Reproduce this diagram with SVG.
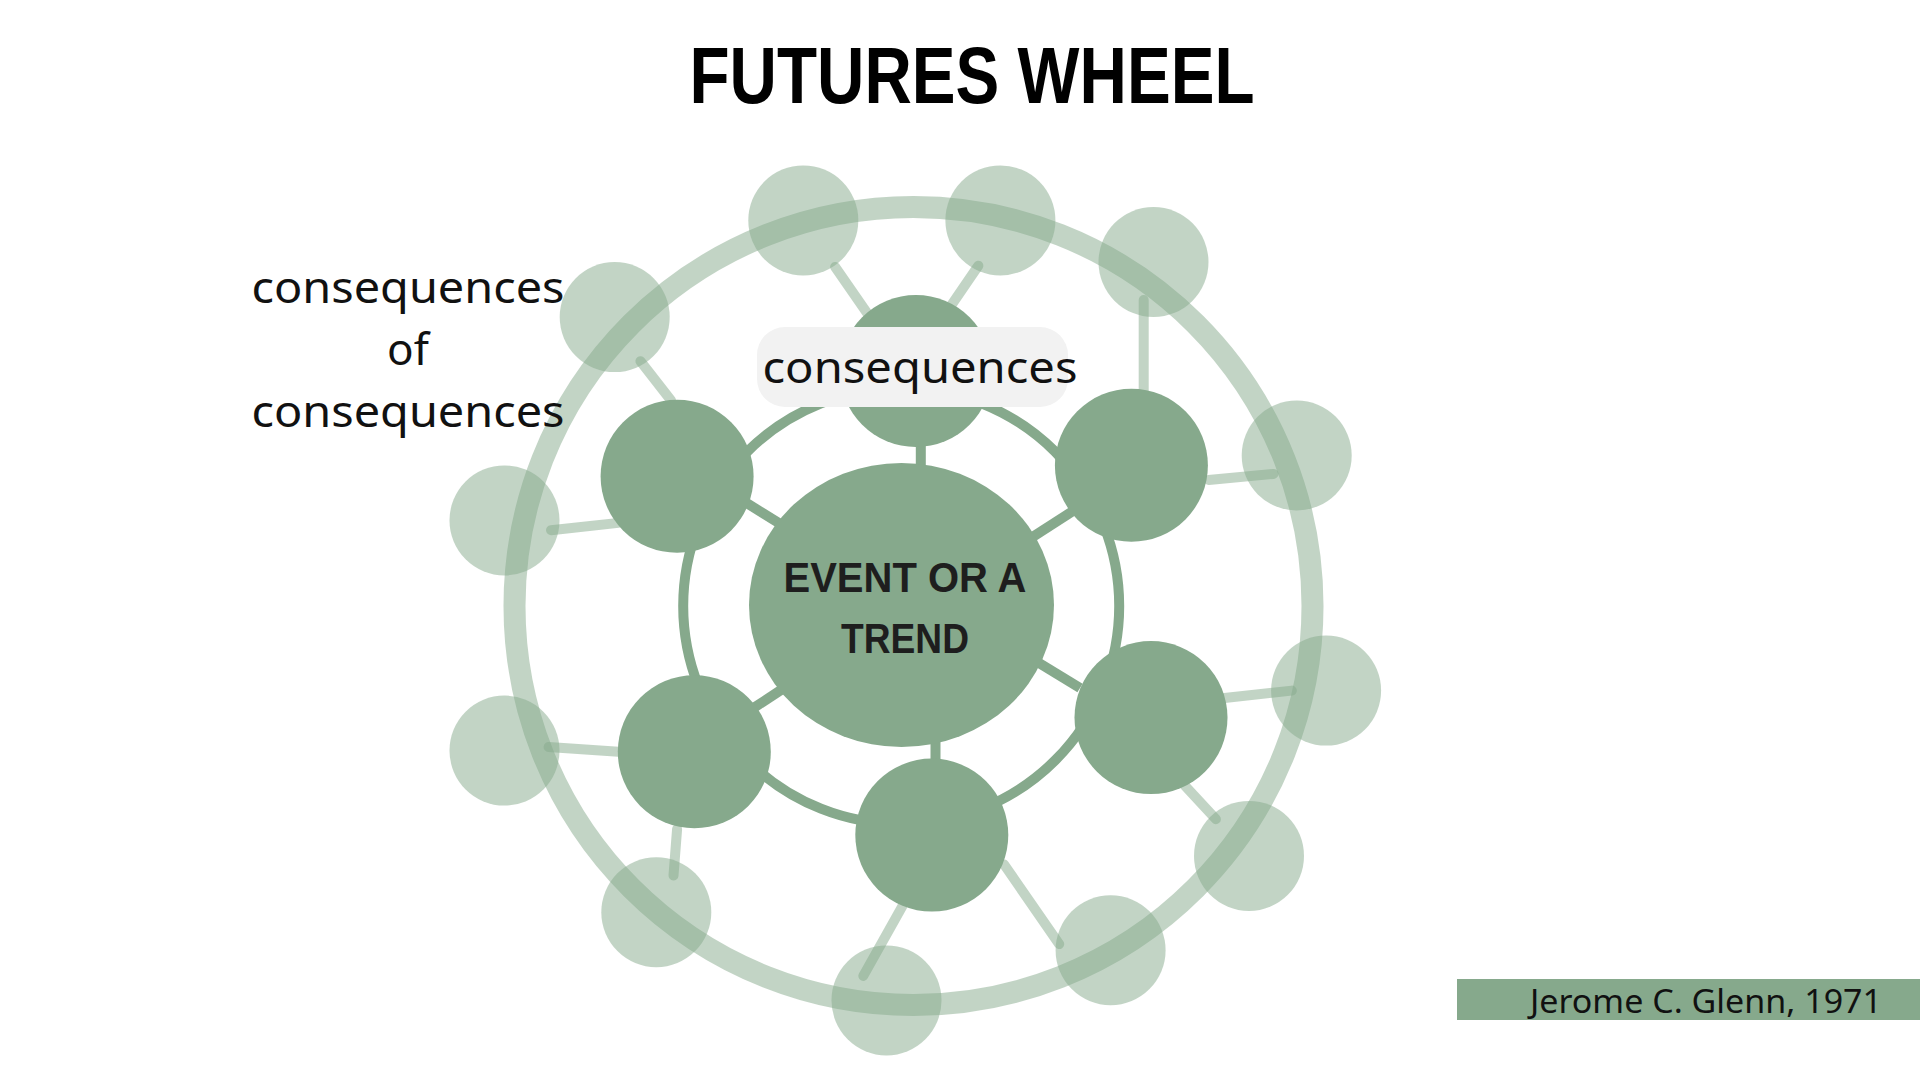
<svg xmlns="http://www.w3.org/2000/svg" width="1920" height="1080" viewBox="0 0 1920 1080">
<style>
.lt{fill:#86a98c;fill-opacity:0.5}
.ltl{stroke:#86a98c;stroke-opacity:0.5;stroke-width:10;stroke-linecap:round;fill:none}
.dk{fill:#86a98c}
.dkl{stroke:#86a98c;stroke-width:10;fill:none}
.txt{font-family:"Noto Sans","Liberation Sans",sans-serif;fill:#111}
.bold{font-family:"Liberation Sans",Arial,sans-serif;font-weight:bold}
</style>
<rect width="1920" height="1080" fill="#ffffff"/>
<text class="bold" x="972" y="103" font-size="79" text-anchor="middle" textLength="565" lengthAdjust="spacingAndGlyphs" fill="#000">FUTURES WHEEL</text>

<g id="outer-ring">
<circle cx="913.5" cy="606" r="399" fill="none" stroke="#86a98c" stroke-opacity="0.5" stroke-width="22"/>
</g>

<g id="connectors">
<line class="ltl" x1="868.2" y1="314.7" x2="835.1" y2="266.9"/>
<line class="ltl" x1="949" y1="308.6" x2="978.4" y2="265.7"/>
<line class="ltl" x1="1143.7" y1="300" x2="1143.7" y2="391.8"/>
<line class="ltl" x1="640.4" y1="361.2" x2="671" y2="400.4"/>
<line class="ltl" x1="1208.6" y1="480" x2="1273.5" y2="473.9"/>
<line class="ltl" x1="551" y1="530.2" x2="618.4" y2="522.9"/>
<line class="ltl" x1="1224.5" y1="698" x2="1291.8" y2="690.6"/>
<line class="ltl" x1="548.6" y1="747" x2="618.4" y2="751.8"/>
<line class="ltl" x1="1185.3" y1="786.1" x2="1215.9" y2="819.2"/>
<line class="ltl" x1="677.1" y1="829" x2="673.5" y2="875.5"/>
<line class="ltl" x1="1004.1" y1="864.5" x2="1059.2" y2="944.1"/>
<line class="ltl" x1="902.4" y1="906.1" x2="863.3" y2="975.9"/>
<circle class="dkl" cx="901.2" cy="606" r="218" stroke-width="12"/>
<line class="dkl" x1="920.8" y1="440" x2="920.8" y2="470"/>
<line class="dkl" x1="745" y1="502" x2="782" y2="525"/>
<line class="dkl" x1="1031" y1="538" x2="1076" y2="509"/>
<line class="dkl" x1="752" y1="709" x2="784" y2="688"/>
<line class="dkl" x1="1039" y1="663" x2="1080" y2="688"/>
<line class="dkl" x1="935.5" y1="742" x2="935.5" y2="764"/>
</g>

<g id="outer-a"><circle class="lt" cx="803.3" cy="220.4" r="55"/></g>
<g id="outer-b"><circle class="lt" cx="1000.4" cy="220.4" r="55"/></g>
<g id="outer-c"><circle class="lt" cx="1153.5" cy="262" r="55"/></g>
<g id="outer-d"><circle class="lt" cx="614.7" cy="317.1" r="55"/></g>
<g id="outer-e"><circle class="lt" cx="1296.7" cy="455.5" r="55"/></g>
<g id="outer-f"><circle class="lt" cx="504.5" cy="520.4" r="55"/></g>
<g id="outer-g"><circle class="lt" cx="1326.1" cy="690.6" r="55"/></g>
<g id="outer-h"><circle class="lt" cx="504.5" cy="750.6" r="55"/></g>
<g id="outer-i"><circle class="lt" cx="1249" cy="855.9" r="55"/></g>
<g id="outer-j"><circle class="lt" cx="656.3" cy="912.2" r="55"/></g>
<g id="outer-k"><circle class="lt" cx="1110.6" cy="950.2" r="55"/></g>
<g id="outer-l"><circle class="lt" cx="886.5" cy="1000.4" r="55"/></g>

<g id="mid-top"><circle class="dk" cx="915.9" cy="371" r="76"/></g>
<g id="mid-ul"><circle class="dk" cx="677.1" cy="476.3" r="76.5"/></g>
<g id="mid-ur"><circle class="dk" cx="1131.4" cy="465.3" r="76.5"/></g>
<g id="mid-ll"><circle class="dk" cx="694.3" cy="751.8" r="76.5"/></g>
<g id="mid-lr"><circle class="dk" cx="1151" cy="717.6" r="76.5"/></g>
<g id="mid-bottom"><circle class="dk" cx="931.8" cy="835.1" r="76.5"/></g>

<g id="center">
<ellipse class="dk" cx="901.5" cy="605" rx="152.5" ry="142"/>
<text class="bold" x="905" y="592" font-size="42" text-anchor="middle" textLength="243" lengthAdjust="spacingAndGlyphs" fill="#1e1e1e">EVENT OR A</text>
<text class="bold" x="905" y="653" font-size="42" text-anchor="middle" textLength="128" lengthAdjust="spacingAndGlyphs" fill="#1e1e1e">TREND</text>
</g>

<g id="label-consequences">
<rect x="757" y="327" width="311" height="80" rx="28" fill="#f2f2f2"/>
<text class="txt" x="920" y="383" font-size="44" text-anchor="middle" textLength="315" lengthAdjust="spacingAndGlyphs">consequences</text>
</g>

<g id="label-cons-of-cons">
<text class="txt" x="408" y="303" font-size="44" text-anchor="middle" textLength="313" lengthAdjust="spacingAndGlyphs">consequences</text>
<text class="txt" x="408" y="365" font-size="44" text-anchor="middle">of</text>
<text class="txt" x="408" y="427" font-size="44" text-anchor="middle" textLength="313" lengthAdjust="spacingAndGlyphs">consequences</text>
</g>

<g id="footer">
<rect x="1457" y="979" width="463" height="41" fill="#86a98c"/>
<text class="txt" x="1530" y="1013" font-size="32" textLength="352" lengthAdjust="spacingAndGlyphs">Jerome C. Glenn, 1971</text>
</g>
</svg>
